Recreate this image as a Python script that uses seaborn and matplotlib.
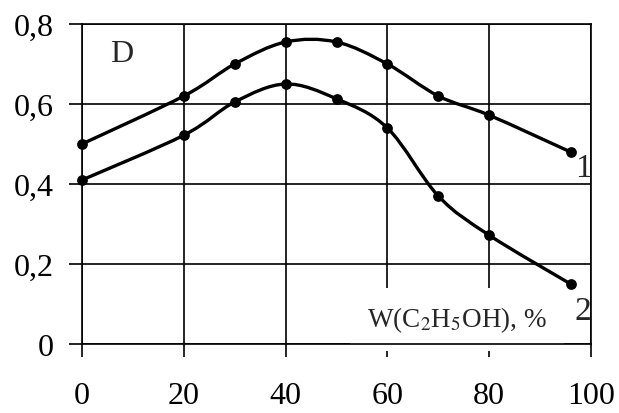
import numpy as np
import pandas as pd
import matplotlib
matplotlib.use("Agg")
import matplotlib.pyplot as plt
from matplotlib.path import Path
from matplotlib.patches import PathPatch
import seaborn as sns

# ---- data ----
x_vals = [0, 20, 30, 40, 50, 60, 70, 80, 96]
curve1 = [0.50, 0.62, 0.70, 0.755, 0.755, 0.70, 0.62, 0.572, 0.48]
curve2 = [0.41, 0.522, 0.605, 0.65, 0.613, 0.54, 0.37, 0.272, 0.15]
x_ticks = [0, 20, 40, 60, 80, 100]
y_ticks = [0, 0.2, 0.4, 0.6, 0.8]
y_tick_labels = ["0", "0,2", "0,4", "0,6", "0,8"]
curve_labels = ["1", "2"]
axis_label = "W(C$_2$H$_5$OH), %"
quantity_label = "D"

sns.set_style("white")
plt.rcParams["font.family"] = ["Liberation Serif", "DejaVu Serif"]
plt.rcParams["mathtext.fontset"] = "stix"

fig = plt.figure(figsize=(6.19, 4.14), dpi=100)
ax = fig.add_axes([82 / 619, 69 / 414, (591 - 82) / 619, (345 - 25) / 414])


def smooth_path(xs, ys):
    pts = np.column_stack([xs, ys]).astype(float)
    n = len(pts)
    verts = [pts[0]]
    codes = [Path.MOVETO]
    for i in range(n - 1):
        p0 = pts[i - 1] if i > 0 else pts[i]
        p1 = pts[i]
        p2 = pts[i + 1]
        p3 = pts[i + 2] if i + 2 < n else pts[i + 1]
        c1 = p1 + (p2 - p0) / 6.0
        c2 = p2 - (p3 - p1) / 6.0
        verts += [c1, c2, p2]
        codes += [Path.CURVE4] * 3
    return Path(verts, codes)


for ys in (curve1, curve2):
    patch = PathPatch(smooth_path(x_vals, ys), facecolor="none",
                      edgecolor="black", lw=2.4, transform=ax.transData,
                      zorder=3, capstyle="round", joinstyle="round")
    ax.add_patch(patch)

df = pd.DataFrame({
    "x": x_vals * 2,
    "y": curve1 + curve2,
    "series": [curve_labels[0]] * len(x_vals) + [curve_labels[1]] * len(x_vals),
})
sns.scatterplot(data=df, x="x", y="y", color="black", s=60, marker="o",
                edgecolor="black", linewidth=0, ax=ax, zorder=4,
                clip_on=False, legend=False)

ax.set_xlim(0, 100)
ax.set_ylim(0, 0.8)
ax.set_xticks(x_ticks)
ax.set_xticklabels([str(v) for v in x_ticks])
ax.set_yticks(y_ticks)
ax.set_yticklabels(y_tick_labels)
ax.set_xlabel("")
ax.set_ylabel("")

ax.grid(True, color="black", lw=1.2)
ax.set_axisbelow(True)
for s in ax.spines.values():
    s.set_color("black")
    s.set_linewidth(1.2)
    s.set_visible(True)

ax.tick_params(axis="both", which="major", direction="out", length=9.5,
               width=1.2, color="black", labelsize=23, labelcolor="black",
               bottom=True, left=True, top=False, right=False)
ax.tick_params(axis="x", pad=17)
ax.tick_params(axis="y", pad=11)

ax.text(7.7, 0.727, quantity_label, fontsize=23, ha="center", va="center",
        zorder=5)
ax.text(100.1, 0.44, curve_labels[0], fontsize=24, ha="right", va="center",
        zorder=5)
ax.text(100.1, 0.082, curve_labels[1], fontsize=24, ha="right", va="center",
        zorder=5)
ax.text(73.7, 0.062, axis_label, fontsize=19.5, ha="center", va="center",
        zorder=2.5,
        bbox=dict(facecolor="white", edgecolor="none", pad=12))

fig.savefig("out.png", dpi=100)
